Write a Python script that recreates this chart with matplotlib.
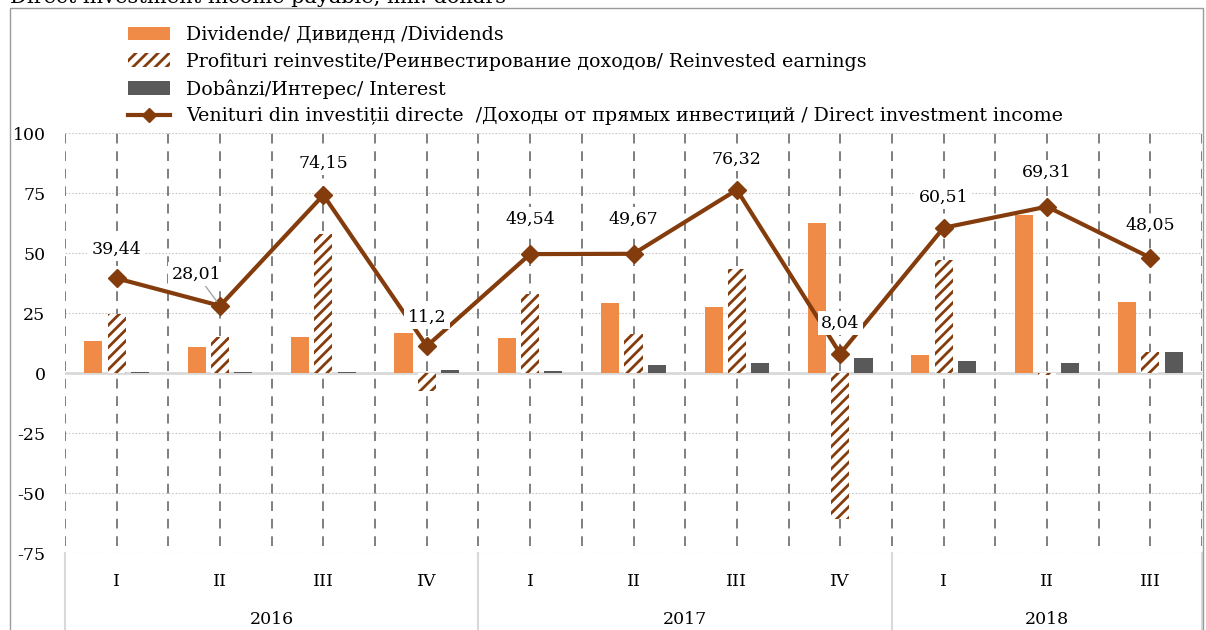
import matplotlib.pyplot as plt
import matplotlib.transforms as mtransforms
from matplotlib.lines import Line2D
from matplotlib.patches import Patch, Rectangle

quarters = ["I", "II", "III", "IV", "I", "II", "III", "IV", "I", "II", "III"]
years = ["2016", "2017", "2018"]
quarters_per_year = [4, 4, 3]

dividends = [13.5, 11.0, 14.9, 16.7, 14.6, 29.1, 27.7, 62.3, 7.7, 65.7, 29.5]
reinvested = [24.7, 15.2, 57.9, -7.6, 33.0, 16.3, 43.4, -61.0, 46.9, -0.8, 8.8]
interest = [0.5, 0.5, 0.5, 1.3, 1.0, 3.2, 4.2, 6.3, 5.0, 4.0, 8.8]
income = [39.44, 28.01, 74.15, 11.2, 49.54, 49.67, 76.32, 8.04, 60.51, 69.31, 48.05]

labels = [
    "Dividende/ Дивиденд /Dividends",
    "Profituri reinvestite/Реинвестирование доходов/ Reinvested earnings",
    "Dobânzi/Интерес/ Interest",
    "Venituri din investiții directe  /Доходы от прямых инвестиций / Direct investment income",
]

ORANGE = "#F08A47"
BROWN = "#843C0C"
GREY = "#595959"

plt.rcParams["font.family"] = ["DejaVu Serif"]
plt.rcParams["axes.unicode_minus"] = False
plt.rcParams["hatch.linewidth"] = 2.0

W, H = 1206, 630
fig = plt.figure(figsize=(W / 100, H / 100), dpi=100)
ax = fig.add_axes([65 / W, 1 - 553 / H, (1202 - 65) / W, (553 - 133) / H])

x = list(range(len(quarters)))
bw = 0.175
off = 0.225

ax.bar([i - off for i in x], dividends, bw, color=ORANGE, zorder=3)
ax.bar(x, reinvested, bw, facecolor="white", edgecolor=BROWN, hatch="///",
       linewidth=0, zorder=3)
ax.bar([i + off for i in x], interest, bw, color=GREY, zorder=3)
ax.plot(x, income, color=BROWN, lw=3, marker="D", markersize=9, zorder=5)

# data labels
label_offsets = [(0, 21), (-17, 23), (0, 23), (0, 21), (0, 25), (0, 25),
                 (0, 22), (0, 22), (0, 22), (0, 25), (0, 23)]
for i, (v, (dx, dy)) in enumerate(zip(income, label_offsets)):
    txt = f"{v}".replace(".", ",")
    arrow = None
    if dx != 0:
        arrow = dict(arrowstyle="-", color="#a6a6a6", lw=1, shrinkA=0, shrinkB=4)
    ax.annotate(txt, (i, v), xytext=(dx, dy), textcoords="offset points",
                ha="center", va="center", fontsize=12.5, zorder=6,
                bbox=dict(boxstyle="square,pad=0.2", fc="white", ec="none"),
                arrowprops=arrow)

ax.set_xlim(-0.5, len(quarters) - 0.5)
ax.set_ylim(-75, 100)
ax.set_yticks([-75, -50, -25, 0, 25, 50, 75, 100])
ax.set_xticks([])
ax.tick_params(axis="y", length=0, pad=14, labelsize=12.5)
for s in ax.spines.values():
    s.set_visible(False)

for y in [-75, -50, -25, 25, 50, 75, 100]:
    ax.axhline(y, color="#c8c8c8", lw=0.8, ls=(0, (1.5, 1.5)), zorder=1)
ax.axhline(0, color="#d9d9d9", lw=2, zorder=2)

# vertical dashed lines at every half category
vx = [i * 0.5 - 0.5 for i in range(2 * len(quarters) + 1)]
ax.vlines(vx, -72, 100, colors="#7f7f7f", lw=1.4, linestyles=(0, (5, 4)), zorder=2)

# category axis (two levels)
trans = mtransforms.blended_transform_factory(ax.transData, ax.transAxes)
ah = 553 - 133
for i, q in enumerate(quarters):
    ax.text(i, -29 / ah, q, transform=trans, ha="center", va="center", fontsize=12.5)
start = 0
bounds = [-0.5]
for yr, n in zip(years, quarters_per_year):
    ax.text(start + (n - 1) / 2, -67 / ah, yr, transform=trans,
            ha="center", va="center", fontsize=12.5)
    start += n
    bounds.append(start - 0.5)
for b in bounds:
    ax.plot([b, b], [0, -80 / ah], transform=trans, color="#d9d9d9", lw=1.5,
            clip_on=False)

# outer chart frame and clipped title
fig.patches.append(Rectangle((10 / W, -0.01), (1203 - 10) / W, 1 - 8 / H + 0.01,
                             transform=fig.transFigure, fill=False,
                             edgecolor="#9a9a9a", lw=1))
fig.text(10 / W, 1 - 3 / H, "Direct investment income payable, mil. dollars",
         ha="left", va="baseline", fontsize=15)

handles = [
    Patch(facecolor=ORANGE),
    Patch(facecolor="white", edgecolor=BROWN, hatch="///", linewidth=0),
    Patch(facecolor=GREY),
    Line2D([], [], color=BROWN, lw=3, marker="D", markersize=7),
]
fig.legend(handles, labels, loc="upper left", bbox_to_anchor=(128 / W, 1 - 26 / H),
           frameon=False, fontsize=13.7, handlelength=2.2, handleheight=0.7,
           handletextpad=0.84, labelspacing=0.45, borderpad=0, borderaxespad=0,
           numpoints=1)

fig.savefig("out.png", dpi=100)
